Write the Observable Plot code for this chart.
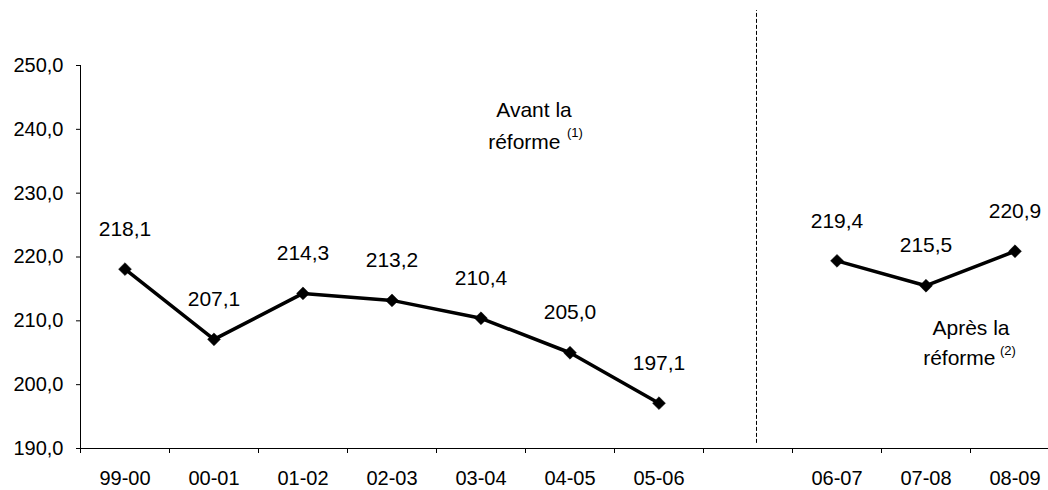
<!DOCTYPE html>
<html>
<head>
<meta charset="utf-8">
<script src="https://cdn.jsdelivr.net/npm/d3@7"></script>
<script src="https://cdn.jsdelivr.net/npm/@observablehq/plot@0.6"></script>
<style>
  body { margin: 0; background: #fff; }
  svg { font-family: "Liberation Sans", Arial, sans-serif; }
</style>
</head>
<body>
<div id="chart"></div>
<script>
const categories = ["99-00","00-01","01-02","02-03","03-04","04-05","05-06","","06-07","07-08","08-09"];
const beforeYears = ["99-00","00-01","01-02","02-03","03-04","04-05","05-06"];
const beforeValues = [218.1, 207.1, 214.3, 213.2, 210.4, 205.0, 197.1];
const afterYears = ["06-07","07-08","08-09"];
const afterValues = [219.4, 215.5, 220.9];
const yTicks = [190, 200, 210, 220, 230, 240, 250];

const data = [
  ...beforeYears.map((c, i) => ({year: c, value: beforeValues[i], period: "avant"})),
  ...afterYears.map((c, i) => ({year: c, value: afterValues[i], period: "apres"}))
];
const fmt = v => v.toFixed(1).replace(".", ",");

const chart = Plot.plot({
  width: 1048,
  height: 490,
  marginLeft: 80,
  marginRight: 0,
  marginTop: 65,
  marginBottom: 42,
  style: {fontFamily: "Liberation Sans, Arial, sans-serif", fontSize: "20px", color: "#000", background: "#fff"},
  x: {domain: categories, type: "band", range: [80, 1059], padding: 0, label: null},
  y: {domain: [190, 250], range: [448, 65], label: null},
  marks: [
    Plot.frame({anchor: "left", stroke: "#000", strokeOpacity: 1}),
    Plot.ruleY([190], {stroke: "#000"}),
    Plot.axisY({ticks: yTicks, tickSize: 4, tickPadding: 13, tickFormat: fmt, fontSize: 20, stroke: "#000", label: null}),
    Plot.axisX({tickSize: 5, text: null, dx: -44.5, stroke: "#000", label: null}),
    Plot.axisX({tickSize: 0, tickPadding: 22, fontSize: 20, label: null}),
    Plot.ruleX([""], {x: d => d, y1: 190.8, y2: 258.6, dx: 8.5, stroke: "#000", strokeDasharray: "4,2", strokeWidth: 1, clip: false}),
    Plot.line(data, {x: "year", y: "value", z: "period", stroke: "#000", strokeWidth: 3.5}),
    Plot.dot(data, {x: "year", y: "value", symbol: "diamond2", r: 5.8, fill: "#000", stroke: "#000", strokeWidth: 0.5}),
    Plot.text(data, {x: "year", y: "value", text: d => fmt(d.value), dy: -40, fontSize: 21, fill: "#000"}),
    Plot.text(["Avant la"], {x: () => "04-05", y: () => 243.0, text: d => d, dx: -36, fontSize: 21, fill: "#000"}),
    Plot.text(["réforme"], {x: () => "04-05", y: () => 237.9, text: d => d, dx: -9.5, textAnchor: "end", fontSize: 21, fill: "#000"}),
    Plot.text(["(1)"], {x: () => "04-05", y: () => 239.5, text: d => d, dx: -3, textAnchor: "start", fontSize: 13, fill: "#000"}),
    Plot.text(["Après la"], {x: () => "08-09", y: () => 208.8, text: d => d, dx: -44, fontSize: 21, fill: "#000"}),
    Plot.text(["réforme"], {x: () => "08-09", y: () => 204.1, text: d => d, dx: -19.5, textAnchor: "end", fontSize: 21, fill: "#000"}),
    Plot.text(["(2)"], {x: () => "08-09", y: () => 205.3, text: d => d, dx: -15, textAnchor: "start", fontSize: 13, fill: "#000"})
  ]
});
document.getElementById("chart").appendChild(chart);
</script>
</body>
</html>
